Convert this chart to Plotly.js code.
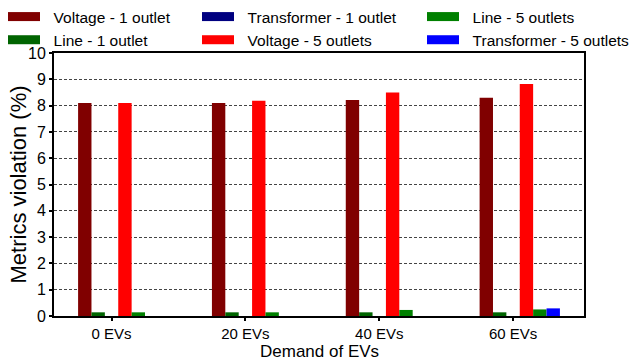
<!DOCTYPE html>
<html><head><meta charset="utf-8">
<script src="https://cdn.plot.ly/plotly-3.0.1.min.js"></script>
<style>html,body{margin:0;padding:0;background:#fff}</style>
</head><body><div id="chart" style="width:630px;height:362px"></div>
<script>
const categories = ['0 EVs', '20 EVs', '40 EVs', '60 EVs'];
const voltage1 = [8.1, 8.1, 8.21, 8.3];
const line1 = [0.14, 0.14, 0.14, 0.14];
const transformer1 = [0, 0, 0, 0];
const voltage5 = [8.1, 8.18, 8.5, 8.82];
const line5 = [0.14, 0.14, 0.23, 0.25];
const transformer5 = [0, 0, 0, 0.29];
const seriesNames = ['Voltage - 1 outlet', 'Line - 1 outlet', 'Transformer - 1 outlet',
                     'Voltage - 5 outlets', 'Line - 5 outlets', 'Transformer - 5 outlets'];
const yTicks = [0, 1, 2, 3, 4, 5, 6, 7, 8, 9, 10];
const xTitle = 'Demand of EVs';
const yTitle = 'Metrics violation (%)';

const seriesValues = [voltage1, line1, transformer1, voltage5, line5, transformer5];
const colors = ['#800000', '#006400', '#000080', '#ff0000', '#008000', '#0000ff'];
const offsets = [-0.25, -0.15, -0.05, 0.05, 0.15, 0.25];
// legend columns (column-major like the original)
const legendOf = ['legend', 'legend', 'legend2', 'legend2', 'legend3', 'legend3'];

const traces = [];
seriesValues.forEach((vals, i) => {
  traces.push({
    type: 'bar', x: categories, y: vals, name: seriesNames[i],
    marker: {color: colors[i], line: {width: 0}},
    width: 0.1, offset: offsets[i], showlegend: false, hoverinfo: 'skip'
  });
});
// legend-only swatches drawn as thick line samples
seriesValues.forEach((vals, i) => {
  traces.push({
    type: 'scatter', mode: 'lines', x: [null], y: [null],
    name: '\u00a0\u00a0' + seriesNames[i],
    line: {color: colors[i], width: 9},
    legend: legendOf[i], showlegend: true, hoverinfo: 'skip'
  });
});

const FONT = 'Liberation Sans, Arial, sans-serif';
const legendBase = {
  xref: 'container', yref: 'container', xanchor: 'left', yanchor: 'top', y: 1.0,
  orientation: 'v', bgcolor: 'rgba(0,0,0,0)', borderwidth: 0,
  itemwidth: 32, font: {family: FONT, size: 15.5, color: '#000'}, traceorder: 'normal'
};

const layout = {
  width: 630, height: 362,
  margin: {l: 54, r: 46, t: 53, b: 46, autoexpand: false},
  paper_bgcolor: '#fff', plot_bgcolor: '#fff',
  barmode: 'overlay',
  font: {family: FONT, size: 15.5, color: '#000'},
  xaxis: {
    type: 'category', range: [-0.43, 3.53], automargin: false,
    showline: true, linewidth: 2, linecolor: '#000', mirror: true,
    ticks: 'outside', ticklen: 3, tickwidth: 2, tickcolor: '#000',
    showgrid: false, zeroline: false,
    tickfont: {family: FONT, size: 15, color: '#000'}
  },
  yaxis: {
    range: [0, 10], tickvals: yTicks, ticktext: yTicks.map(String), automargin: false,
    showline: true, linewidth: 2, linecolor: '#000', mirror: true,
    ticks: 'outside', ticklen: 3, tickwidth: 2, tickcolor: '#000',
    showgrid: true, gridcolor: '#444', gridwidth: 1, griddash: '3px,2px',
    zeroline: false,
    tickfont: {family: FONT, size: 16, color: '#000'}
  },
  annotations: [
    {text: xTitle, xref: 'paper', yref: 'paper', x: 0.5, y: 0, xanchor: 'center', yanchor: 'bottom',
     yshift: -46, showarrow: false, borderpad: 0, font: {family: FONT, size: 17, color: '#000'}},
    {text: yTitle, xref: 'paper', yref: 'paper', x: 0, y: 0.5, xanchor: 'center', yanchor: 'middle',
     xshift: -36, textangle: -90, showarrow: false, font: {family: FONT, size: 22, color: '#000'}}
  ],
  legend: Object.assign({}, legendBase, {x: 3 / 630}),
  legend2: Object.assign({}, legendBase, {x: 197 / 630}),
  legend3: Object.assign({}, legendBase, {x: 422 / 630}),
  showlegend: true
};

Plotly.newPlot('chart', traces, layout, {displayModeBar: false, staticPlot: true});
</script>
</body></html>
